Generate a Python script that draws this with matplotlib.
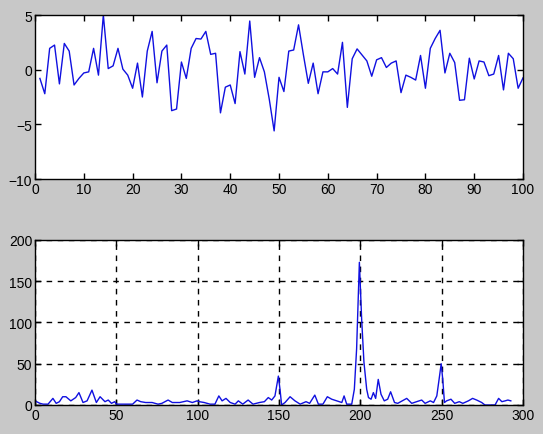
import matplotlib
matplotlib.use('Agg')
import matplotlib.pyplot as plt
import numpy as np

# top: noisy signal, samples 1..100
sig = [-0.8, -2.2, 1.95, 2.25, -1.3, 2.4, 1.7, -1.4, -0.8, -0.3,
       -0.2, 1.95, -0.5, 5.0, 0.1, 0.35, 1.95, 0.05, -0.5, -1.7,
       0.6, -2.5, 1.7, 3.5, -1.2, 1.7, 2.25, -3.75, -3.6, 0.7,
       -0.8, 1.95, 2.85, 2.8, 3.5, 1.4, 1.5, -3.95, -1.6, -1.4,
       -3.1, 1.65, -0.4, 4.45, -0.7, 1.1, -0.2, -2.7, -5.6, -0.7,
       -2.0, 1.7, 1.8, 4.1, 1.35, -1.25, 0.6, -2.2, -0.2, -0.2,
       0.1, -0.4, 2.5, -3.45, 1.0, 1.9, 1.35, 0.8, -0.6, 0.9,
       1.1, 0.2, 0.6, 0.8, -2.1, -0.5, -0.7, -0.95, 1.3, -1.7,
       1.95, 2.85, 3.6, -0.3, 1.5, 0.65, -2.8, -2.75, 1.05, -0.85,
       0.8, 0.7, -0.55, -0.4, 1.3, -1.85, 1.5, 1.0, -1.7, -0.75]
t = np.arange(1, len(sig) + 1)

# bottom: spectrum magnitude (read points)
spec_x = [0, 3, 5, 8, 11, 13, 15, 17, 19, 22, 25, 27, 29.5, 32, 35, 37.7, 40, 43, 45, 47, 49, 50,
          55, 60, 62.7, 65, 68, 72, 75.6, 78, 81.8, 84.4, 89, 93.5, 96.7, 99.6, 101, 104, 107.6,
          110.6, 113, 115, 117.4, 120, 123, 125, 127.7, 131, 134, 138, 141, 143.4, 145.5, 147.5,
          149.6, 150.6, 151.6, 153.7, 156.8, 159.8, 163, 166.6, 168.8, 172, 174.2, 177, 179.7,
          182.4, 185.5, 188.6, 190, 191.6, 194.7, 196.3, 197.7, 199.4, 200.8, 202.2, 203.9, 205,
          206.6, 208, 209.4, 211, 212.7, 214.7, 216.8, 218.6, 221, 223, 228.5, 231.6, 234.6,
          237.7, 239.8, 243, 245, 247, 248.4, 249.7, 250.7, 251.7, 253, 255.7, 258, 260.8, 263,
          266.4, 269, 271.5, 274.6, 276.6, 280.7, 282.8, 285, 287, 289, 290.7, 292.5]
spec_y = [5, 2, 1, 1, 8, 2, 4, 10, 10, 5, 9, 15, 3, 5, 18, 3, 10, 4, 6, 2, 4, 1,
          1, 1, 6, 4, 3, 3, 1, 2, 6, 3, 3, 5, 3, 5, 4, 3, 1,
          1, 11, 5, 8, 3, 1, 5, 1, 6, 1, 3, 4, 9, 6, 11,
          35, 19, 0, 3, 10, 5, 1, 4, 2, 12, 1, 1, 10,
          7, 5, 3, 11, 1, 1, 19, 68, 173, 104, 52, 19, 9,
          7, 15, 8, 31, 13, 5, 7, 16, 3, 2, 8, 2, 4,
          6, 2, 5, 3, 11, 31, 50, 30, 3, 5, 7, 2, 4, 2,
          5, 8, 6, 3, 0, 0, 0, 8, 4, 5, 6, 5]

plt.rcParams['font.family'] = ['Liberation Sans', 'DejaVu Sans']
plt.rcParams['font.size'] = 10

fig = plt.figure(figsize=(5.43, 4.35), dpi=100)
fig.patch.set_facecolor('#c8c8c8')

ax1 = fig.add_axes([0.0645, 0.5862, 0.8987, 0.377])
ax1.plot(t, sig, color='#1010e0', lw=1)
ax1.set_xlim(0, 100)
ax1.set_ylim(-10, 5)
ax1.set_xticks(np.arange(0, 101, 10))
ax1.set_yticks([-10, -5, 0, 5])

ax2 = fig.add_axes([0.0645, 0.0667, 0.8987, 0.3793])
ax2.plot(spec_x, spec_y, color='#1010e0', lw=1)
ax2.set_xlim(0, 300)
ax2.set_ylim(0, 200)
ax2.set_xticks(np.arange(0, 301, 50))
ax2.set_yticks(np.arange(0, 201, 50))
ax2.grid(True, color='black', ls=(0, (4, 4)), lw=1)

for ax in (ax1, ax2):
    ax.set_facecolor('white')
    ax.tick_params(direction='in', length=4, width=1, top=True, right=True,
                   colors='black', labelsize=10, pad=2)
    for s in ax.spines.values():
        s.set_linewidth(1)
        s.set_color('black')

fig.savefig('out.png', dpi=100, facecolor=fig.get_facecolor())
